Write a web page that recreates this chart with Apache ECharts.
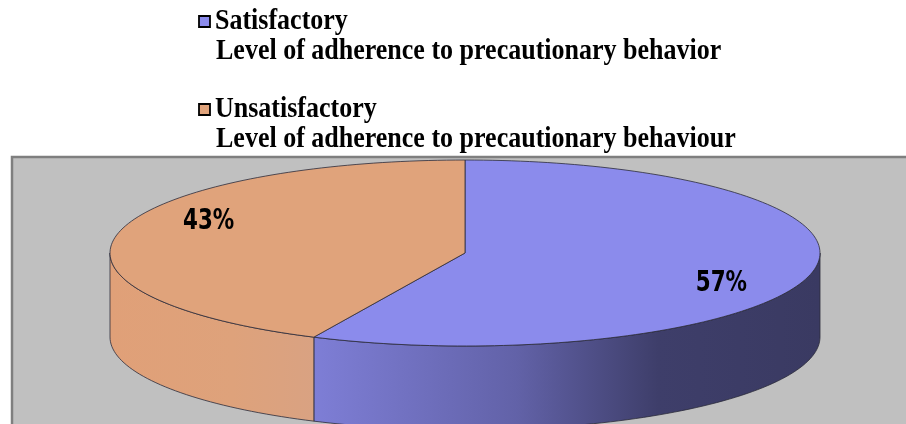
<!DOCTYPE html>
<html>
<head>
<meta charset="utf-8">
<script src="https://cdn.jsdelivr.net/npm/echarts@6/dist/echarts.min.js"></script>
<style>
  html, body { margin: 0; padding: 0; background: #fff; }
  #chart { width: 906px; height: 424px; }
</style>
</head>
<body>
<div id="chart"></div>
<script>
// data
const categories = ['Satisfactory', 'Unsatisfactory']
const subtitles = [
  'Level of adherence to precautionary behavior',
  'Level of adherence to precautionary behaviour'
]
const values = [57, 43]

// colours (top face, side gradient stops)
const topColors = ['#8b8bec', '#e0a37b']
const sideStops = [
  [[0, '#7e7ed6'], [0.4, '#6262a8'], [0.68, '#3e3e6a'], [1, '#3a3a62']],
  [[0, '#e0a078'], [0.6, '#dea27b'], [1, '#d9a282']]
]

// 3d pie geometry
const cx = 465, cy = 253, rx = 355, ry = 93, depth = 84

const total = values.reduce((a, b) => a + b, 0)
const startAngle = (i) => {
  let s = 0
  for (let k = 0; k < i; k++) s += values[k]
  return -90 + 360 * s / total
}
const pt = (deg, dy) => {
  const r = deg * Math.PI / 180
  return [cx + rx * Math.cos(r), cy + (dy || 0) + ry * Math.sin(r)]
}
const arc = (a0, a1, dy) => {
  const pts = []
  const n = Math.max(2, Math.ceil(Math.abs(a1 - a0) / 1.5))
  for (let k = 0; k <= n; k++) pts.push(pt(a0 + (a1 - a0) * k / n, dy))
  return pts
}

const renderItem = (params, api) => {
  const i = params.dataIndex
  const v = api.value(0)
  const a0 = startAngle(i)
  const a1 = a0 + 360 * v / total
  const children = []
  const line = { stroke: '#2b2b3a', lineWidth: 0.8 }

  // visible front wall, screen angles 0..180
  const s0 = Math.max(a0, 0), s1 = Math.min(a1, 180)
  if (s1 > s0) {
    const pts = arc(s0, s1, 0).concat(arc(s1, s0, depth))
    children.push({
      type: 'polygon',
      z2: 1,
      shape: { points: pts },
      style: Object.assign({
        fill: new echarts.graphic.LinearGradient(0, 0, 1, 0,
          sideStops[i].map(s => ({ offset: s[0], color: s[1] })))
      }, line)
    })
  }
  // top face
  children.push({
    type: 'polygon',
    z2: 2,
    shape: { points: [[cx, cy]].concat(arc(a0, a1, 0)) },
    style: Object.assign({ fill: topColors[i] }, line)
  })
  // percentage label
  const mid = (a0 + a1) / 2
  const p = pt(mid, 0)
  const f = 0.74
  const sy = Math.sin(mid * Math.PI / 180)
  children.push({
    type: 'text',
    z2: 3,
    x: cx + (p[0] - cx) * f,
    y: cy + (p[1] - cy) * f + (sy > 0 ? 16 : -16),
    scaleX: 0.85,
    style: {
      text: Math.round(v / total * 100) + '%',
      font: 'bold 28px "Liberation Sans Narrow", "DejaVu Sans Condensed", sans-serif',
      fill: '#000',
      align: 'center',
      verticalAlign: 'middle'
    }
  })
  return { type: 'group', children }
}

// legend drawn as graphic so the square sits on the first line
const legendFont = 'bold 26px "Liberation Serif", "Times New Roman", serif'
const legendItems = []
categories.forEach((c, i) => {
  const top = i === 0 ? 0 : 88
  legendItems.push({
    type: 'rect',
    shape: { x: 199, y: top + 16, width: 11, height: 11 },
    style: { fill: topColors[i], stroke: '#000', lineWidth: 1.8 }
  })
  legendItems.push({
    type: 'text',
    x: 215, y: top + 22, scaleY: 1.1,
    style: { text: c, font: legendFont, fill: '#000', verticalAlign: 'middle' }
  })
  legendItems.push({
    type: 'text',
    x: 216, y: top + 52, scaleY: 1.1,
    style: { text: subtitles[i], font: legendFont, fill: '#000', verticalAlign: 'middle' }
  })
})

const chart = echarts.init(document.getElementById('chart'), null, { renderer: 'canvas' })
chart.setOption({
  animation: false,
  backgroundColor: '#fff',
  graphic: [
    {
      type: 'rect',
      z: -10,
      shape: { x: 12, y: 157, width: 900, height: 280 },
      style: { fill: '#c0c0c0', stroke: '#7f7f7f', lineWidth: 2.5 }
    }
  ].concat(legendItems),
  series: [
    {
      type: 'custom',
      coordinateSystem: 'none',
      renderItem: renderItem,
      data: values.map((v, i) => [v, i])
    }
  ]
})
window.addEventListener('resize', () => chart.resize())
</script>
</body>
</html>
